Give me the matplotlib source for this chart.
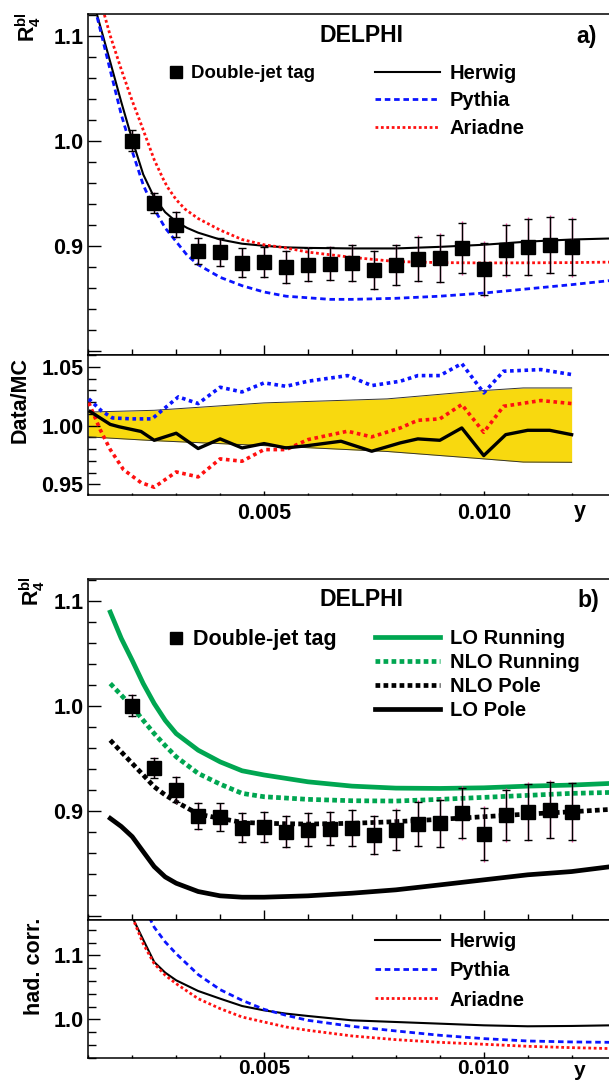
import matplotlib
matplotlib.use("Agg")
import matplotlib.pyplot as plt
from matplotlib.ticker import MultipleLocator, FixedLocator, FixedFormatter

plt.rcParams["font.family"] = ["Liberation Sans", "DejaVu Sans"]
plt.rcParams["font.weight"] = "bold"
plt.rcParams["mathtext.fontset"] = "custom"
plt.rcParams["mathtext.rm"] = "Liberation Sans:bold"
plt.rcParams["mathtext.bf"] = "Liberation Sans:bold"
plt.rcParams["mathtext.it"] = "Liberation Sans:bold"

# ---- data: double-jet tag measurement ----
ycut = [0.0020, 0.0025, 0.0030, 0.0035, 0.0040, 0.0045, 0.0050, 0.0055, 0.0060, 0.0065, 0.0070,
        0.0075, 0.0080, 0.0085, 0.0090, 0.0095, 0.0100, 0.0105, 0.0110, 0.0115, 0.0120]
r4_data = [1.000, 0.941, 0.920, 0.895, 0.894, 0.884, 0.8845, 0.880, 0.882, 0.883, 0.8835,
           0.877, 0.882, 0.8876, 0.888, 0.898, 0.878, 0.896, 0.899, 0.901, 0.899]
r4_err = [0.010, 0.0095, 0.012, 0.0125, 0.013, 0.0135, 0.0145, 0.015, 0.0155, 0.016, 0.017,
          0.018, 0.019, 0.021, 0.0225, 0.024, 0.025, 0.024, 0.0265, 0.0265, 0.027]

# ---- panel a: MC predictions ----
herwig_x = [0.0011, 0.0012, 0.0015, 0.00175, 0.0020, 0.00225, 0.0025, 0.00275, 0.0030, 0.00325,
            0.0035, 0.0040, 0.0045, 0.0050, 0.0055, 0.0060, 0.0070, 0.0080, 0.0090, 0.0100,
            0.0110, 0.0120, 0.0129]
herwig = [1.145, 1.12, 1.075, 1.037, 1.001, 0.968, 0.946, 0.932, 0.923, 0.917,
          0.9125, 0.906, 0.902, 0.900, 0.8985, 0.898, 0.8975, 0.8975, 0.899, 0.901,
          0.904, 0.906, 0.907]
pythia_x = [0.0011, 0.0012, 0.0015, 0.00175, 0.0020, 0.00225, 0.0025, 0.00275, 0.0030, 0.00325,
            0.0035, 0.0040, 0.0045, 0.0050, 0.0055, 0.0060, 0.0065, 0.0070, 0.0080, 0.0090,
            0.0100, 0.0110, 0.0120, 0.0129]
pythia = [1.14, 1.118, 1.067, 1.025, 0.99, 0.958, 0.935, 0.917, 0.904, 0.891,
          0.882, 0.870, 0.862, 0.856, 0.852, 0.8505, 0.849, 0.849, 0.850, 0.852,
          0.855, 0.859, 0.863, 0.867]
ariadne_x = [0.0013, 0.0015, 0.00175, 0.0020, 0.0022, 0.0025, 0.0027, 0.0028, 0.0030, 0.0032,
             0.0035, 0.0040, 0.0045, 0.0050, 0.0055, 0.0060, 0.0065, 0.0070, 0.0075, 0.0080,
             0.0090, 0.0100, 0.0110, 0.0120, 0.0129]
ariadne = [1.13, 1.10, 1.068, 1.038, 1.016, 0.982, 0.964, 0.956, 0.944, 0.935,
           0.926, 0.915, 0.906, 0.901, 0.898, 0.894, 0.8915, 0.889, 0.887, 0.885,
           0.884, 0.8837, 0.8838, 0.884, 0.8845]

# ---- panel a: Data/MC ratios ----
band_x = [0.0010, 0.0025, 0.0050, 0.0078, 0.0100, 0.0109, 0.0120]
band_hi = [1.0115, 1.013, 1.0193, 1.0227, 1.0298, 1.032, 1.032]
band_lo = [0.9904, 0.9872, 0.983, 0.978, 0.9717, 0.969, 0.9688]

herwig_ratio_x = [0.00104, 0.00127, 0.0015, 0.0017, 0.0022, 0.0025, 0.0030, 0.0035, 0.0040, 0.0045, 0.0050,
                  0.0055, 0.0060, 0.00675, 0.00745, 0.0081, 0.0085, 0.0090, 0.0095, 0.0100, 0.0105,
                  0.0110, 0.0115, 0.0120]
herwig_ratio = [1.012, 1.0065, 1.001, 0.999, 0.995, 0.9875, 0.9935, 0.9805, 0.9887, 0.981, 0.9847,
                0.981, 0.983, 0.9867, 0.9782, 0.9853, 0.9887, 0.9875, 0.998, 0.9745, 0.9923,
                0.996, 0.996, 0.9923]
pythia_ratio_x = [0.00101, 0.0013, 0.00155, 0.0020, 0.00245, 0.0027, 0.00305, 0.0035, 0.0040, 0.0045,
                  0.0050, 0.0055, 0.0060, 0.0069, 0.00745, 0.0081, 0.0085, 0.0090, 0.0095, 0.0100,
                  0.01045, 0.0113, 0.0120]
pythia_ratio = [1.0227, 1.0125, 1.0065, 1.0057, 1.0057, 1.0136, 1.0244, 1.0187, 1.0326, 1.0286,
                1.0363, 1.0334, 1.0377, 1.0425, 1.034, 1.0377, 1.0425, 1.0425, 1.0527, 1.0278,
                1.0462, 1.0476, 1.0434]
ariadne_ratio_x = [0.00101, 0.00127, 0.0015, 0.0018, 0.0022, 0.0025, 0.0030, 0.0035, 0.0040, 0.0045,
                   0.0050, 0.0055, 0.0060, 0.0069, 0.00745, 0.0081, 0.0085, 0.0090, 0.0095, 0.0100,
                   0.01045, 0.0113, 0.0120]
ariadne_ratio = [1.0195, 0.9966, 0.9796, 0.9626, 0.9515, 0.9476, 0.9606, 0.9564, 0.9717, 0.9697,
                 0.9796, 0.9796, 0.9881, 0.9952, 0.9904, 0.998, 1.0045, 1.0057, 1.0179, 0.9943,
                 1.0164, 1.0213, 1.0187]

# ---- panel b: theory ----
theo_x = [0.0015, 0.00175, 0.0020, 0.00225, 0.0025, 0.00275, 0.0030, 0.0035, 0.0040, 0.0045, 0.0050,
          0.0060, 0.0070, 0.0080, 0.0090, 0.0100, 0.0110, 0.0120, 0.0129]
lo_running = [1.089, 1.064, 1.043, 1.021, 1.002, 0.986, 0.9734, 0.9576, 0.9465, 0.938, 0.934,
              0.9275, 0.9234, 0.9215, 0.9212, 0.9218, 0.9234, 0.9244, 0.926]
nlo_running = [1.021, 1.010, 0.9988, 0.986, 0.9734, 0.962, 0.9513, 0.9355, 0.9253, 0.9165, 0.9133,
               0.9108, 0.9095, 0.9092, 0.9108, 0.9127, 0.9146, 0.9165, 0.9174]
nlo_pole = [0.9671, 0.956, 0.945, 0.934, 0.9228, 0.915, 0.9085, 0.8968, 0.8927, 0.8889, 0.888,
            0.8873, 0.888, 0.8896, 0.8918, 0.8943, 0.8968, 0.899, 0.9013]
lo_pole = [0.8927, 0.885, 0.8753, 0.861, 0.8468, 0.837, 0.831, 0.8231, 0.819, 0.8177, 0.8177,
           0.819, 0.8215, 0.8247, 0.8294, 0.8342, 0.839, 0.8421, 0.8468]

# ---- panel b: hadronisation corrections ----
herwig_had_x = [0.0019, 0.0020, 0.00226, 0.0025, 0.00275, 0.0030, 0.0035, 0.0040, 0.0045, 0.0050,
                0.0055, 0.0060, 0.0070, 0.0080, 0.0090, 0.0100, 0.0110, 0.0120, 0.0129]
herwig_had = [1.18, 1.16, 1.123, 1.0896, 1.073, 1.061, 1.0443, 1.0323, 1.0208, 1.014,
              1.0089, 1.0052, 0.9984, 0.9958, 0.9932, 0.9906, 0.9891, 0.9896, 0.9906]
pythia_had_x = [0.0022, 0.0025, 0.00275, 0.0030, 0.0035, 0.0040, 0.0045, 0.0050, 0.0055, 0.0060,
                0.0070, 0.0080, 0.0090, 0.0100, 0.0110, 0.0120, 0.0129]
pythia_had = [1.185, 1.144, 1.121, 1.1026, 1.070, 1.0464, 1.0297, 1.0156, 1.0063, 0.9984,
              0.989, 0.9818, 0.975, 0.9698, 0.9661, 0.9646, 0.964]
ariadne_had_x = [0.0019, 0.0020, 0.00225, 0.0025, 0.00275, 0.0030, 0.0035, 0.0040, 0.0045, 0.0050,
                 0.0055, 0.0060, 0.0070, 0.0080, 0.0090, 0.0100, 0.0110, 0.0120, 0.0129]
ariadne_had = [1.175, 1.16, 1.118, 1.087, 1.069, 1.0557, 1.0323, 1.0167, 1.0036, 0.9958,
               0.988, 0.9828, 0.974, 0.9682, 0.964, 0.961, 0.9578, 0.9557, 0.9542]

W, H = 609, 1084
X0 = 88.3
XMIN = 0.001
XMAX = XMIN + (W - X0) / 43940.0

GREEN = "#00a651"
BLUE = "#0a14ff"
RED = "#ff1010"
PINK = "#e8479b"
DASH = (0, (2.0, 1.35))
DOT = (0, (1, 0.95))


def fx(px):
    return px / W


def fy(py):
    return 1 - py / H


def make_axes(fig, top, bottom):
    ax = fig.add_axes([fx(X0), fy(bottom), 1 - fx(X0), (bottom - top) / H])
    ax.set_xlim(XMIN, XMAX)
    ax.spines["right"].set_visible(False)
    for s in ax.spines.values():
        s.set_linewidth(1.1)
    ax.xaxis.set_major_locator(FixedLocator([0.005, 0.010]))
    ax.xaxis.set_major_formatter(FixedFormatter(["0.005", "0.010"]))
    ax.xaxis.set_minor_locator(MultipleLocator(0.001))
    ax.tick_params(which="both", direction="in", top=False, right=False, width=1.0,
                   labelsize=15.5, pad=3.5)
    return ax


def style_main(ax):
    ax.set_ylim(0.796, 1.1205)
    ax.yaxis.set_major_locator(FixedLocator([0.8, 0.9, 1.0, 1.1]))
    ax.yaxis.set_major_formatter(FixedFormatter(["", "0.9", "1.0", "1.1"]))
    ax.yaxis.set_minor_locator(MultipleLocator(0.02))
    ax.tick_params(axis="y", which="major", length=9.5)
    ax.tick_params(axis="y", which="minor", length=5.8)
    ax.tick_params(axis="x", which="major", length=7)
    ax.tick_params(axis="x", which="minor", length=4)
    ax.tick_params(axis="x", labelbottom=False)


def draw_data(ax):
    ax.errorbar(ycut, r4_data, yerr=[e * 1.06 for e in r4_err], fmt="none", ecolor=PINK,
                elinewidth=1.0, capsize=0, zorder=4)
    ax.errorbar(ycut, r4_data, yerr=r4_err, fmt="none", ecolor="black", elinewidth=1.0,
                capsize=2.6, capthick=1.0, zorder=5)
    pts, = ax.plot(ycut, r4_data, "s", color="black", markersize=9.5, zorder=6,
                   label="Double-jet tag")
    return pts


fig = plt.figure(figsize=(W / 100, H / 100), dpi=100)

# ================= panel a =================
ax1 = make_axes(fig, 14.3, 355)
style_main(ax1)
l_h, = ax1.plot(herwig_x, herwig, "-", color="black", lw=1.5, label="Herwig")
l_p, = ax1.plot(pythia_x, pythia, color=BLUE, lw=2.0, ls=DASH, label="Pythia")
l_a, = ax1.plot(ariadne_x, ariadne, color=RED, lw=2.0, ls=DOT, label="Ariadne")
pts = draw_data(ax1)

leg1 = ax1.legend(handles=[pts], loc="upper left", bbox_to_anchor=(fx(168.5), fy(65)),
                  bbox_transform=fig.transFigure, frameon=False, fontsize=13.4,
                  handlelength=0.8, handletextpad=0.4, borderpad=0, borderaxespad=0,
                  markerscale=0.85)
ax1.add_artist(leg1)
ax1.legend(handles=[l_h, l_p, l_a], loc="upper left", bbox_to_anchor=(fx(375), fy(64)),
           bbox_transform=fig.transFigure, frameon=False, fontsize=14.5,
           handlelength=3.25, handletextpad=0.45, labelspacing=0.42, borderpad=0,
           borderaxespad=0)

fig.text(fx(361.7), fy(35), "DELPHI", fontsize=16.6, ha="center", va="center")
fig.text(fx(586.7), fy(36.7), "a)", fontsize=16.6, ha="center", va="center")
fig.text(fx(28), fy(12), r"$\mathbf{R}_{\mathbf{4}}^{\mathbf{bl}}$", fontsize=15.5,
         rotation=90, ha="center", va="top")

# ratio
ax2 = make_axes(fig, 355, 495)
ax2.set_ylim(0.941, 1.06)
ax2.yaxis.set_major_locator(FixedLocator([0.95, 1.00, 1.05]))
ax2.yaxis.set_major_formatter(FixedFormatter(["0.95", "1.00", "1.05"]))
ax2.yaxis.set_minor_locator(MultipleLocator(0.01))
ax2.tick_params(axis="y", which="major", length=8.4)
ax2.tick_params(axis="y", which="minor", length=5.8)
ax2.tick_params(axis="x", which="major", length=3)
ax2.tick_params(axis="x", which="minor", length=1.5)
ax2.tick_params(axis="x", pad=6)
ax2.fill_between(band_x, band_lo, band_hi, color="#f8d90f", lw=0, zorder=1)
ax2.plot(band_x, band_hi, color="#333333", lw=0.7, zorder=2)
ax2.plot(band_x, band_lo, color="#333333", lw=0.7, zorder=2)
ax2.plot(pythia_ratio_x, pythia_ratio, color=BLUE, lw=2.6, ls=(0, (1, 1)), zorder=3)
ax2.plot(ariadne_ratio_x, ariadne_ratio, color=RED, lw=2.6, ls=(0, (1, 1)), zorder=3)
ax2.plot(herwig_ratio_x, herwig_ratio, color="black", lw=2.4, zorder=4)
fig.text(fx(20.5), fy(357), "Data/MC", fontsize=15.5, rotation=90, ha="center", va="top")
fig.text(fx(580), fy(511.7), "y", fontsize=15.5, ha="center", va="center")

# ================= panel b =================
ax3 = make_axes(fig, 579, 920)
style_main(ax3)
l_lr, = ax3.plot(theo_x, lo_running, "-", color=GREEN, lw=3.4, label="LO Running")
l_nr, = ax3.plot(theo_x, nlo_running, color=GREEN, lw=3.4, ls=(0, (1, 0.7)), label="NLO Running")
l_np, = ax3.plot(theo_x, nlo_pole, color="black", lw=3.4, ls=(0, (1, 0.7)), label="NLO Pole")
l_lp, = ax3.plot(theo_x, lo_pole, "-", color="black", lw=3.4, label="LO Pole")
pts_b = draw_data(ax3)

leg3 = ax3.legend(handles=[pts_b], loc="upper left", bbox_to_anchor=(fx(167), fy(629.5)),
                  bbox_transform=fig.transFigure, frameon=False, fontsize=15.5,
                  handlelength=0.8, handletextpad=0.4, borderpad=0, borderaxespad=0,
                  markerscale=0.85)
ax3.add_artist(leg3)
ax3.legend(handles=[l_lr, l_nr, l_np, l_lp], loc="upper left", bbox_to_anchor=(fx(375), fy(629)),
           bbox_transform=fig.transFigure, frameon=False, fontsize=14.5,
           handlelength=3.25, handletextpad=0.45, labelspacing=0.25, borderpad=0,
           borderaxespad=0)

fig.text(fx(361.7), fy(600), "DELPHI", fontsize=16.6, ha="center", va="center")
fig.text(fx(588), fy(600), "b)", fontsize=16.6, ha="center", va="center")
fig.text(fx(32), fy(576), r"$\mathbf{R}_{\mathbf{4}}^{\mathbf{bl}}$", fontsize=15.5,
         rotation=90, ha="center", va="top")

# hadronisation corrections
ax4 = make_axes(fig, 920, 1058)
ax4.set_ylim(0.9395, 1.1553)
ax4.yaxis.set_major_locator(FixedLocator([1.0, 1.1]))
ax4.yaxis.set_major_formatter(FixedFormatter(["1.0", "1.1"]))
ax4.yaxis.set_minor_locator(MultipleLocator(0.02))
ax4.tick_params(axis="y", which="major", length=8.4)
ax4.tick_params(axis="y", which="minor", length=5.8)
ax4.tick_params(axis="x", which="major", length=4.3)
ax4.tick_params(axis="x", which="minor", length=2.2)
ax4.tick_params(axis="x", pad=0.5, labelsize=15)
h_h, = ax4.plot(herwig_had_x, herwig_had, "-", color="black", lw=1.5, label="Herwig")
h_p, = ax4.plot(pythia_had_x, pythia_had, color=BLUE, lw=2.0, ls=DASH, label="Pythia")
h_a, = ax4.plot(ariadne_had_x, ariadne_had, color=RED, lw=2.0, ls=DOT, label="Ariadne")
ax4.legend(handles=[h_h, h_p, h_a], loc="upper left", bbox_to_anchor=(fx(375), fy(932)),
           bbox_transform=fig.transFigure, frameon=False, fontsize=14.5,
           handlelength=3.25, handletextpad=0.45, labelspacing=0.51, borderpad=0,
           borderaxespad=0)
fig.text(fx(34.5), fy(918), "had. corr.", fontsize=15.5, rotation=90, ha="center", va="top")
fig.text(fx(580), fy(1070), "y", fontsize=15, ha="center", va="center")

fig.savefig("out.png", dpi=100)
